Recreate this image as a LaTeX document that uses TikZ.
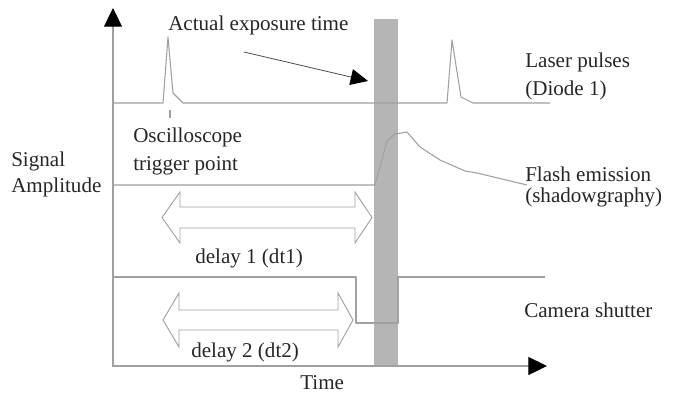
\documentclass[tikz,border=0pt]{standalone}
\usepackage{fontspec}
\setmainfont{Liberation Serif}
\usetikzlibrary{arrows.meta}
\definecolor{linegray}{HTML}{A0A0A0}
\definecolor{bandgray}{HTML}{B5B5B5}
\definecolor{textgray}{HTML}{262626}
\begin{document}
\begin{tikzpicture}[x=0.75pt,y=-0.75pt,
  sig/.style={draw=linegray,line width=0.8pt,line join=round},
  lbl/.style={anchor=base west,inner sep=0pt,text=textgray,font=\fontsize{15.8}{19}\selectfont},
  bigtip/.style={-{Triangle[width=13.5pt,length=14pt,color=black]}},
  dblarrow/.style={draw=linegray,line width=0.7pt,fill=white,line join=miter}]
\useasboundingbox (0,0) rectangle (677,394);
% exposure band
\fill[bandgray] (374,19) rectangle (398,366);
% axes
\coordinate (origin) at (113,366);
\coordinate (ytop) at (113,8);
\coordinate (xend) at (547,366);
\draw[sig,bigtip] (origin) -- (ytop);
\draw[sig,bigtip] (112,366) -- (xend);
% laser pulses
\draw[sig] (113,103) -- (163,103) -- (168,37) -- (173,93) -- (183,103) -- (447,103) -- (452,40) -- (461,97) -- (473,103) -- (550,103);
\draw[sig] (170,110) -- (170,118);
% flash emission
\draw[sig] (113,185) -- (375,185) -- (387,141) -- (395,134) -- (407,132) -- (420,147) -- (440,160) -- (465,171) -- (477,173) -- (527,185);
% camera shutter
\draw[sig] (113,277) -- (356,277) -- (356,323) -- (398,323) -- (398,277) -- (545,277);
% delay arrows
\draw[dblarrow] (162,217.5) -- (180,192) -- (180,207) -- (355,207) -- (355,192) -- (372,217.5) -- (355,243) -- (355,228) -- (180,228) -- (180,243) -- cycle;
\draw[dblarrow] (163,320) -- (179,293) -- (179,310) -- (338,310) -- (338,293) -- (353,320) -- (338,347) -- (338,330) -- (179,330) -- (179,347) -- cycle;
% exposure pointer
\coordinate (pstart) at (244,52);
\coordinate (pend) at (368,81);
\draw[draw=black!70,line width=0.6pt,-{Triangle[width=12pt,length=13pt,color=black]}] (pstart) -- (pend);
% labels
\node[lbl] (act) at (168,30) {Actual exposure time};
\node[lbl] (las1) at (525,67) {Laser pulses};
\node[lbl] (las2) at (525,95) {(Diode 1)};
\node[lbl] (osc1) at (133,142) {Oscilloscope};
\node[lbl] (osc2) at (133,170) {trigger point};
\node[lbl] (sig1) at (11,166) {Signal};
\node[lbl] (sig2) at (11,192) {Amplitude};
\node[lbl] (fl1) at (525,181) {Flash emission};
\node[lbl] (fl2) at (525,202) {(shadowgraphy)};
\node[lbl] (d1) at (195,263) {delay 1 (dt1)};
\node[lbl] (cam) at (524,317) {Camera shutter};
\node[lbl] (d2) at (191,357) {delay 2 (dt2)};
\node[lbl] (time) at (300,389) {Time};
\end{tikzpicture}
\end{document}
